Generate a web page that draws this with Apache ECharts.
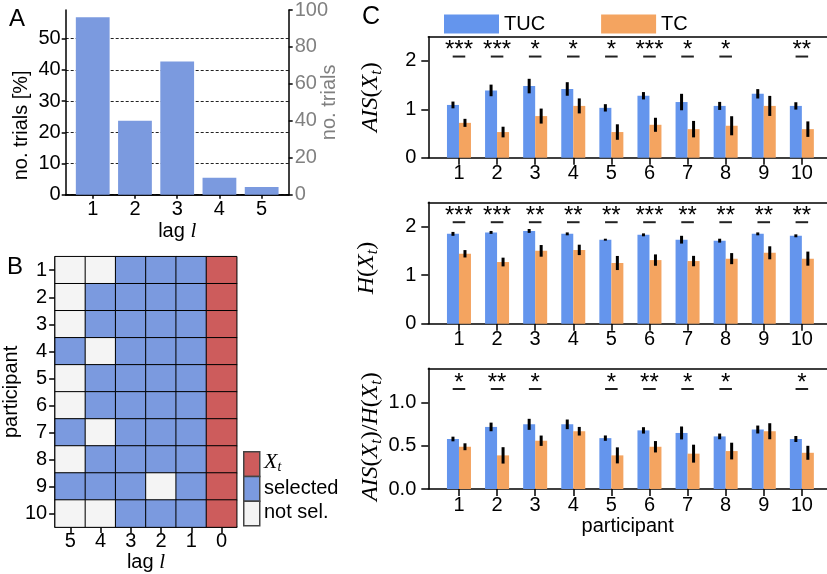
<!DOCTYPE html>
<html><head><meta charset="utf-8">
<script src="https://cdn.jsdelivr.net/npm/echarts@6/dist/echarts.min.js"></script>
<style>html,body{margin:0;padding:0;background:#fff}#c{width:827px;height:574px}</style>
</head><body><div id="c"></div>
<script>
// ---------- Panel A data ----------
const lagCategories = [1, 2, 3, 4, 5];
const lagTrialsPct = [56.9, 23.7, 42.7, 5.4, 2.5];
const pctTicks = [0, 10, 20, 30, 40, 50];
const trialTicks = [0, 20, 40, 60, 80, 100];

// ---------- Panel B data ----------
const lagLabels = ['5', '4', '3', '2', '1', '0'];
const participantLabels = ['1', '2', '3', '4', '5', '6', '7', '8', '9', '10'];
// 0 = not sel., 1 = selected, 2 = X_t
const selectionMatrix = [
  [0, 0, 1, 1, 1, 2],
  [0, 1, 1, 1, 1, 2],
  [0, 1, 1, 1, 1, 2],
  [1, 0, 1, 1, 1, 2],
  [0, 1, 1, 1, 1, 2],
  [0, 1, 1, 1, 1, 2],
  [1, 0, 1, 1, 1, 2],
  [0, 1, 1, 1, 1, 2],
  [1, 1, 1, 0, 1, 2],
  [0, 0, 1, 1, 1, 2]
];

// ---------- Panel C data ----------
const participants = [1, 2, 3, 4, 5, 6, 7, 8, 9, 10];
const aisTUC    = [1.09, 1.39, 1.48, 1.42, 1.03, 1.28, 1.15, 1.07, 1.32, 1.07];
const aisTUCErr = [0.07, 0.12, 0.15, 0.14, 0.076, 0.076, 0.17, 0.083, 0.097, 0.076];
const aisTC     = [0.72, 0.53, 0.86, 1.07, 0.53, 0.68, 0.59, 0.66, 1.07, 0.59];
const aisTCErr  = [0.083, 0.11, 0.155, 0.155, 0.16, 0.145, 0.17, 0.197, 0.207, 0.16];
const aisSig    = ['***', '***', '*', '*', '*', '***', '*', '*', '', '**'];

const hTUC      = [1.85, 1.88, 1.91, 1.85, 1.73, 1.83, 1.73, 1.71, 1.85, 1.81];
const hTUCErr   = [0.04, 0.03, 0.04, 0.03, 0.02, 0.03, 0.08, 0.04, 0.03, 0.03];
const hTC       = [1.44, 1.27, 1.50, 1.52, 1.25, 1.31, 1.29, 1.34, 1.46, 1.34];
const hTCErr    = [0.076, 0.09, 0.12, 0.107, 0.145, 0.117, 0.107, 0.114, 0.134, 0.145];
const hSig      = ['***', '***', '**', '**', '**', '***', '**', '**', '**', '**'];

const ratioTUC    = [0.58, 0.72, 0.75, 0.75, 0.59, 0.68, 0.65, 0.61, 0.69, 0.58];
const ratioTUCErr = [0.027, 0.05, 0.064, 0.056, 0.031, 0.037, 0.075, 0.033, 0.046, 0.035];
const ratioTC     = [0.49, 0.39, 0.56, 0.67, 0.39, 0.49, 0.41, 0.44, 0.67, 0.42];
const ratioTCErr  = [0.04, 0.095, 0.06, 0.05, 0.093, 0.066, 0.104, 0.097, 0.093, 0.081];
const ratioSig    = ['*', '**', '*', '', '*', '**', '*', '*', '', '*'];

const cTicksTop = [0, 1, 2];
const cTicksBottom = [0, 0.5, 1.0];

// ---------- styles ----------
const FONT = 'Liberation Sans, Arial, sans-serif';
const SERIF = 'Liberation Serif, Times New Roman, serif';
const BLUE_A = '#7B9ADF';
const TUC_COLOR = '#6495ED';
const TC_COLOR = '#F4A460';
const RED = '#CD5C5C';
const LIGHT = '#F4F4F4';
const AXLINE = {show: true, lineStyle: {color: '#000', width: 1.5}};

function spineTop(gridIndex, min, max) {
  return {type: 'value', gridIndex, position: 'top', min, max,
    axisLine: AXLINE, axisTick: {show: false}, axisLabel: {show: false}, splitLine: {show: false}};
}

function cXAxis(gridIndex, withName) {
  return {type: 'value', gridIndex, min: 0.195, max: 10.66,
    axisLine: AXLINE,
    axisTick: {show: true, length: 7, lineStyle: {color: '#000', width: 1.5}, customValues: participants},
    axisLabel: {fontSize: 20, fontFamily: FONT, color: '#000', margin: 6, customValues: participants},
    splitLine: {show: false},
    name: withName ? 'participant' : '', nameLocation: 'middle', nameGap: 27,
    nameTextStyle: {fontSize: 20, fontFamily: FONT, color: '#000'}};
}

function cYAxis(gridIndex, max, ticks, nameRich, gap, decimals, shift) {
  return {type: 'value', gridIndex, min: 0, max,
    axisLine: AXLINE,
    axisTick: {show: true, length: 7, lineStyle: {color: '#000', width: 1.5}, customValues: ticks},
    axisLabel: {fontSize: 20, fontFamily: FONT, color: '#000', margin: 12, customValues: ticks,
      formatter: v => decimals ? v.toFixed(decimals) : String(v)},
    splitLine: {show: false},
    name: nameRich, nameLocation: 'middle', nameRotate: 90, nameGap: gap,
    nameTextStyle: {
      padding: [0, shift, 0, 0],
      rich: {
        i: {fontFamily: SERIF, fontStyle: 'italic', fontSize: 24, color: '#000'},
        p: {fontFamily: SERIF, fontSize: 24, color: '#000'},
        s: {fontFamily: SERIF, fontStyle: 'italic', fontSize: 16, color: '#000', padding: [12, 0, 0, 0]}
      }
    }};
}

function barSeries(name, color, xi, yi, xs, vals, errs, offset, width) {
  return {
    type: 'custom', name, xAxisIndex: xi, yAxisIndex: yi,
    itemStyle: {color}, silent: true,
    data: xs.map((x, i) => [x, vals[i], errs ? errs[i] : 0]),
    encode: {x: 0, y: 1},
    renderItem(params, api) {
      const x = api.value(0), v = api.value(1), e = api.value(2);
      const p0 = api.coord([x + offset - width / 2, v]);
      const p1 = api.coord([x + offset + width / 2, 0]);
      const children = [{type: 'rect',
        shape: {x: p0[0], y: p0[1], width: p1[0] - p0[0], height: p1[1] - p0[1]},
        style: {fill: color}}];
      if (e) {
        const a = api.coord([x + offset, v - e]), b = api.coord([x + offset, v + e]);
        children.push({type: 'line', shape: {x1: a[0], y1: a[1], x2: b[0], y2: b[1]},
          style: {stroke: '#000', lineWidth: 3}});
      }
      return {type: 'group', children};
    }
  };
}

function sigSeries(xi, yi, xs, marks, lineVal) {
  return {
    type: 'custom', xAxisIndex: xi, yAxisIndex: yi, silent: true,
    data: xs.map((x, i) => [x, lineVal, i]).filter(d => marks[d[2]]),
    encode: {x: 0, y: 1},
    renderItem(params, api) {
      const x = api.value(0), v = api.value(1), idx = api.value(2);
      const a = api.coord([x - 0.165, v]), b = api.coord([x + 0.165, v]);
      return {type: 'group', children: [
        {type: 'line', shape: {x1: a[0], y1: a[1], x2: b[0], y2: b[1]}, style: {stroke: '#222', lineWidth: 2}},
        {type: 'text', x: (a[0] + b[0]) / 2, y: a[1] - 6,
          style: {text: marks[idx], fontSize: 24, fontFamily: FONT, fill: '#000', align: 'center', verticalAlign: 'middle'}}
      ]};
    }
  };
}

const heatData = [];
selectionMatrix.forEach((row, r) => row.forEach((v, c) => heatData.push([c, r, v])));

const chart = echarts.init(document.getElementById('c'), null, {renderer: 'canvas'});

const option = {
  animation: false,
  backgroundColor: '#fff',
  textStyle: {fontFamily: FONT},
  grid: [
    {left: 65.7, top: 10, width: 223, height: 184.7},
    {left: 54.3, top: 256.7, width: 182.4, height: 271.6},
    {left: 428.3, top: 36.7, right: 0, height: 121},
    {left: 428.3, top: 202.3, right: 0, height: 121.4},
    {left: 428.3, top: 368.3, right: 0, height: 120.7}
  ],
  legend: {
    left: 439, top: 9, icon: 'rect', itemWidth: 55, itemHeight: 19, itemGap: 56,
    textStyle: {fontSize: 20, fontFamily: FONT, color: '#000'},
    data: ['TUC', 'TC'], selectedMode: false
  },
  xAxis: [
    {type: 'value', gridIndex: 0, min: 0.36, max: 5.64,
      axisLine: AXLINE,
      axisTick: {show: true, length: 4, lineStyle: {color: '#000', width: 1.5}, customValues: lagCategories},
      axisLabel: {fontSize: 20, fontFamily: FONT, color: '#000', margin: 5, customValues: lagCategories},
      splitLine: {show: false},
      name: '{a|lag }{b|l}', nameLocation: 'middle', nameGap: 21,
      nameTextStyle: {rich: {a: {fontSize: 20, fontFamily: FONT, color: '#000'},
        b: {fontSize: 21, fontFamily: SERIF, fontStyle: 'italic', color: '#000'}}}},
    spineTop(0, 0.36, 5.64),
    {type: 'category', gridIndex: 1, data: lagLabels,
      axisLine: AXLINE,
      axisTick: {show: true, length: 6, alignWithLabel: true, lineStyle: {color: '#000', width: 1.5}},
      axisLabel: {fontSize: 20, fontFamily: FONT, color: '#000', margin: 4},
      name: '{a|lag }{b|l}', nameLocation: 'middle', nameGap: 22,
      nameTextStyle: {rich: {a: {fontSize: 20, fontFamily: FONT, color: '#000'},
        b: {fontSize: 21, fontFamily: SERIF, fontStyle: 'italic', color: '#000'}}}},
    cXAxis(2, false), spineTop(2, 0.195, 10.66),
    cXAxis(3, false), spineTop(3, 0.195, 10.66),
    cXAxis(4, true), spineTop(4, 0.195, 10.66)
  ],
  yAxis: [
    {type: 'value', gridIndex: 0, min: 0, max: 59.2, interval: 10,
      axisLine: AXLINE,
      axisTick: {show: true, length: 4, lineStyle: {color: '#000', width: 1.5}, customValues: pctTicks},
      axisLabel: {fontSize: 20, fontFamily: FONT, color: '#000', margin: 5, customValues: pctTicks},
      splitLine: {show: true, lineStyle: {color: '#222', width: 1, type: [3, 2]}},
      name: 'no. trials [%]', nameLocation: 'middle', nameRotate: 90, nameGap: 34,
      nameTextStyle: {fontSize: 20, fontFamily: FONT, color: '#000', padding: [0, 46, 0, 0]}},
    {type: 'value', gridIndex: 0, position: 'right', min: 0, max: 100, interval: 20,
      axisLine: AXLINE,
      axisTick: {show: true, length: 4, lineStyle: {color: '#000', width: 1.5}, customValues: trialTicks},
      axisLabel: {fontSize: 20, fontFamily: FONT, color: '#808080', margin: 6, customValues: trialTicks},
      splitLine: {show: false},
      name: 'no. trials', nameLocation: 'middle', nameRotate: 90, nameGap: 31, nameMoveOverlap: false,
      nameTextStyle: {fontSize: 20, fontFamily: FONT, color: '#808080'}},
    {type: 'category', gridIndex: 1, data: participantLabels, inverse: true,
      axisLine: AXLINE,
      axisTick: {show: true, length: 6, alignWithLabel: true, lineStyle: {color: '#000', width: 1.5}},
      axisLabel: {fontSize: 20, fontFamily: FONT, color: '#000', margin: 8},
      name: 'participant', nameLocation: 'middle', nameRotate: 90, nameGap: 25,
      nameTextStyle: {fontSize: 20, fontFamily: FONT, color: '#000'}},
    cYAxis(2, 2.5, cTicksTop, '{i|AIS}{p|(}{i|X}{s|t}{p|)}', 44, 0, 0),
    cYAxis(3, 2.5, cTicksTop, '{i|H}{p|(}{i|X}{s|t}{p|)}', 48, 0, 10),
    cYAxis(4, 1.4, cTicksBottom, '{i|AIS}{p|(}{i|X}{s|t}{p|)/}{i|H}{p|(}{i|X}{s|t}{p|)}', 44, 1, 16)
  ],
  visualMap: {
    type: 'piecewise', show: false, seriesIndex: 1, dimension: 2,
    pieces: [{value: 0, color: LIGHT}, {value: 1, color: BLUE_A}, {value: 2, color: RED}]
  },
  series: [
    {
      type: 'custom', name: 'lagA', xAxisIndex: 0, yAxisIndex: 0, silent: true,
      data: lagCategories.map((c, i) => [c, lagTrialsPct[i]]),
      encode: {x: 0, y: 1},
      renderItem(params, api) {
        const x = api.value(0), v = api.value(1);
        const p0 = api.coord([x - 0.4, v]), p1 = api.coord([x + 0.4, 0]);
        return {type: 'rect', shape: {x: p0[0], y: p0[1], width: p1[0] - p0[0], height: p1[1] - p0[1]},
          style: {fill: BLUE_A}};
      }
    },
    {
      type: 'heatmap', xAxisIndex: 2, yAxisIndex: 2, data: heatData, silent: true,
      itemStyle: {borderColor: '#000', borderWidth: 1},
      emphasis: {disabled: true}
    },
    barSeries('TUC', TUC_COLOR, 3, 3, participants, aisTUC, aisTUCErr, -0.1575, 0.315),
    barSeries('TC', TC_COLOR, 3, 3, participants, aisTC, aisTCErr, 0.1575, 0.315),
    sigSeries(3, 3, participants, aisSig, 2.09),
    barSeries('TUC', TUC_COLOR, 5, 4, participants, hTUC, hTUCErr, -0.1575, 0.315),
    barSeries('TC', TC_COLOR, 5, 4, participants, hTC, hTCErr, 0.1575, 0.315),
    sigSeries(5, 4, participants, hSig, 2.09),
    barSeries('TUC', TUC_COLOR, 7, 5, participants, ratioTUC, ratioTUCErr, -0.1575, 0.315),
    barSeries('TC', TC_COLOR, 7, 5, participants, ratioTC, ratioTCErr, 0.1575, 0.315),
    sigSeries(7, 5, participants, ratioSig, 1.16)
  ],
  graphic: [
    {type: 'text', left: 9, top: 7, style: {text: 'A', fontSize: 24, fontFamily: FONT, fill: '#000'}},
    {type: 'text', left: 7, top: 255, style: {text: 'B', fontSize: 24, fontFamily: FONT, fill: '#000'}},
    {type: 'text', left: 362, top: 5, style: {text: 'C', fontSize: 25, fontFamily: FONT, fill: '#000'}},
    {type: 'rect', left: 243, top: 451, shape: {width: 16, height: 24.7}, style: {fill: RED, stroke: '#444', lineWidth: 1.5}},
    {type: 'rect', left: 243, top: 475.7, shape: {width: 16, height: 24.7}, style: {fill: BLUE_A, stroke: '#444', lineWidth: 1.5}},
    {type: 'rect', left: 243, top: 500.4, shape: {width: 16, height: 24.7}, style: {fill: LIGHT, stroke: '#444', lineWidth: 1.5}},
    {type: 'text', left: 264, top: 451, style: {text: '{x|X}{s|t}', rich: {
      x: {fontSize: 22, fontFamily: SERIF, fontStyle: 'italic', fill: '#000'},
      s: {fontSize: 14, fontFamily: SERIF, fontStyle: 'italic', fill: '#000', padding: [10, 0, 0, 0]}}}},
    {type: 'text', left: 264, top: 478, style: {text: 'selected', fontSize: 20, fontFamily: FONT, fill: '#000'}},
    {type: 'text', left: 264, top: 502, style: {text: 'not sel.', fontSize: 20, fontFamily: FONT, fill: '#000'}}
  ]
};
chart.setOption(option);
</script>
</body></html>
